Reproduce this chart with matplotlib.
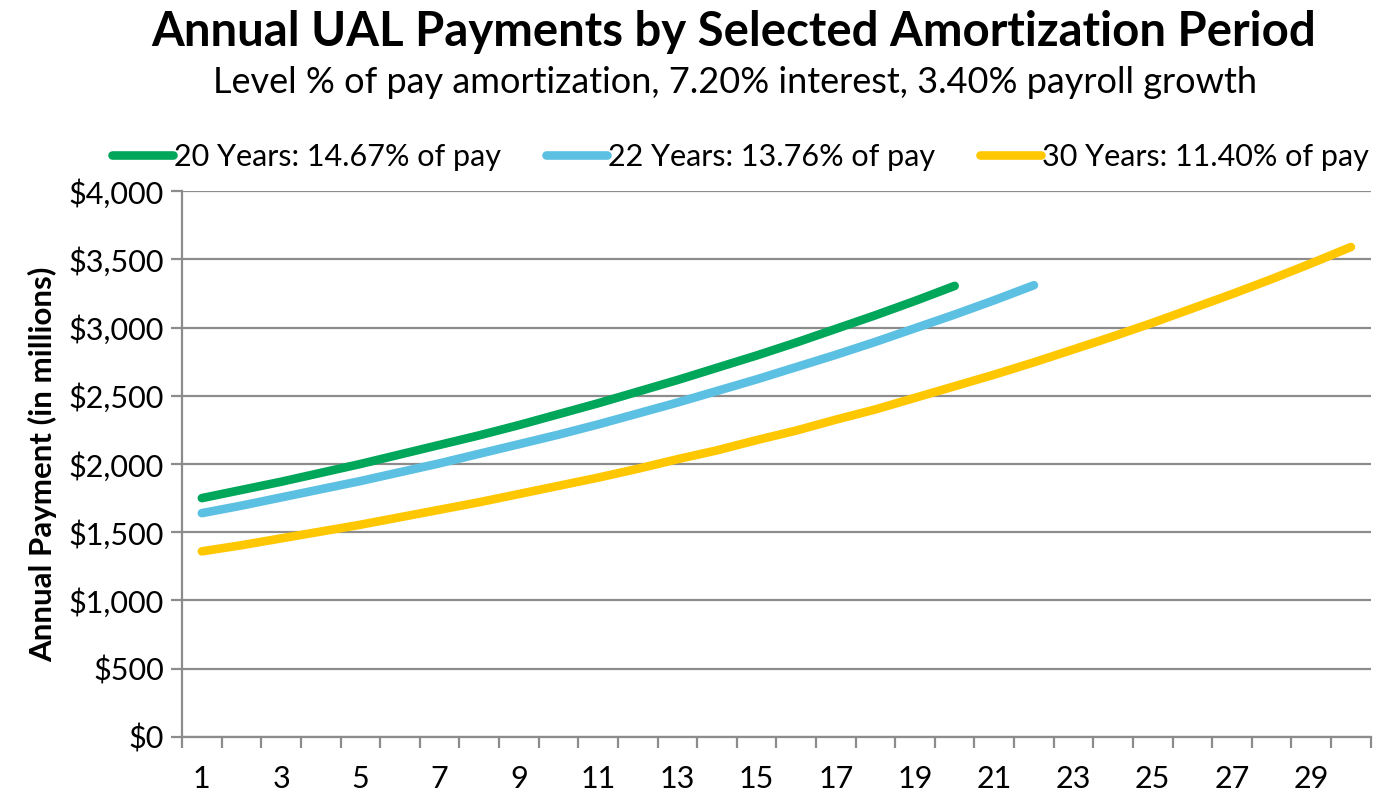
import matplotlib
matplotlib.use("Agg")
import matplotlib.pyplot as plt
from matplotlib.ticker import FuncFormatter

plt.rcParams['font.family'] = ['Lato', 'DejaVu Sans']

# valores (millones de $)
anios = list(range(1, 31))

pago_20 = [1750, 1810, 1870, 1935, 2000, 2070, 2140, 2210, 2285, 2365,
           2445, 2530, 2615, 2705, 2795, 2890, 2990, 3090, 3195, 3305]
pago_22 = [1640, 1695, 1755, 1815, 1875, 1940, 2005, 2075, 2145, 2215,
           2290, 2370, 2450, 2535, 2620, 2710, 2800, 2895, 2995, 3095,
           3200, 3310]
pago_30 = [1360, 1405, 1455, 1505, 1555, 1610, 1665, 1720, 1780, 1840,
           1900, 1965, 2035, 2100, 2175, 2245, 2325, 2400, 2485, 2570,
           2655, 2745, 2840, 2935, 3035, 3140, 3245, 3355, 3470, 3590]

series = [
    ('20 Years: 14.67% of pay', pago_20, '#00A65A'),
    ('22 Years: 13.76% of pay', pago_22, '#5BC0E2'),
    ('30 Years: 11.40% of pay', pago_30, '#FFC700'),
]

gris = '#8C8C8C'

fig = plt.figure(figsize=(13.79, 7.97), dpi=100)
ax = fig.add_axes([0.132, 0.0753, 0.862, 0.685])

for nombre, valores, color in series:
    ax.plot(anios[:len(valores)], valores, color=color, lw=6.2,
            solid_capstyle='round', label=nombre)

ax.set_xlim(0.5, 30.5)
ax.set_ylim(0, 4000)
ax.set_yticks(range(0, 4001, 500))
ax.yaxis.set_major_formatter(FuncFormatter(lambda v, p: f'${v:,.0f}'))

# etiquetas solo en impares, marcas entre categorias
ax.set_xticks(anios[::2])
ax.set_xticks([a - 0.5 for a in anios] + [30.5], minor=True)
ax.tick_params(axis='x', which='major', length=0, labelsize=22, pad=20,
               colors='black')
ax.tick_params(axis='x', which='minor', length=8, width=1.6, color=gris)
ax.tick_params(axis='y', length=8, width=1.6, color=gris, labelsize=22,
               pad=5)

ax.grid(axis='y', color=gris, lw=1.6)
ax.set_axisbelow(True)
for lado in ['top', 'right']:
    ax.spines[lado].set_visible(False)
for lado in ['left', 'bottom']:
    ax.spines[lado].set_color(gris)
    ax.spines[lado].set_linewidth(1.6)

ax.set_ylabel('Annual Payment (in millions)', fontsize=22.5,
              fontweight='bold', labelpad=8)

fig.text(0.532, 0.96, 'Annual UAL Payments by Selected Amortization Period',
         ha='center', va='center', fontsize=34, fontweight='bold')
fig.text(0.533, 0.896, 'Level % of pay amortization, 7.20% interest, 3.40% payroll growth',
         ha='center', va='center', fontsize=26)

fig.legend(loc='center', bbox_to_anchor=(0.537, 0.803), ncol=3,
           frameon=False, fontsize=22, handlelength=2.0, handletextpad=0.05,
           columnspacing=1.45)

fig.savefig('out.png', dpi=100)
